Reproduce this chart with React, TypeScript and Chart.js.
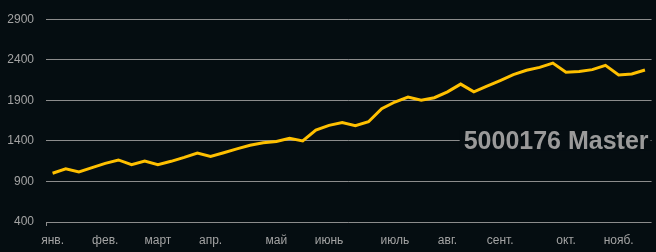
import React, { useEffect, useRef } from "react";
import { Chart, registerables } from "chart.js";

Chart.register(...registerables);

const monthLabels: [number, string][] = [
  [0, "янв."], [4, "фев."], [8, "март"], [12, "апр."], [17, "май"], [21, "июнь"],
  [26, "июль"], [30, "авг."], [34, "сент."], [39, "окт."], [43, "нояб."],
];

const values: number[] = [
  1001, 1055, 1018, 1070, 1123, 1165, 1107, 1152, 1107, 1148,
  1197, 1250, 1209, 1254, 1302, 1346, 1376, 1392, 1433, 1400,
  1534, 1591, 1627, 1587, 1636, 1797, 1879, 1940, 1900, 1932,
  2005, 2100, 2005, 2074, 2144, 2217, 2270, 2306, 2359, 2245,
  2254, 2278, 2331, 2212, 2225, 2273,
];

const categories: string[] = values.map((_, i) => {
  const m = monthLabels.find(([idx]) => idx === i);
  return m ? m[1] : "";
});

const yTicks: number[] = [400, 900, 1400, 1900, 2400, 2900];
const titleText = "5000176 Master";

const BG = "#050d11";
const GRID = "#8c8c8c";
const TICK = "#a3a3a3";
const LINE = "#ffc000";
const FONT = "'Liberation Sans', Arial, sans-serif";

export default function App() {
  const ref = useRef<HTMLCanvasElement | null>(null);

  useEffect(() => {
    document.body.style.margin = "0";
    document.body.style.background = BG;
    const canvas = ref.current;
    if (!canvas) return;

    const overlay = {
      id: "overlay",
      beforeDraw(chart: any) {
        const { ctx, width, height } = chart;
        ctx.save();
        ctx.fillStyle = BG;
        ctx.fillRect(0, 0, width, height);
        ctx.restore();
      },
      afterDraw(chart: any) {
        const { ctx, chartArea } = chart;
        ctx.save();
        ctx.strokeStyle = GRID;
        ctx.lineWidth = 1;
        ctx.beginPath();
        ctx.moveTo(Math.round(chartArea.left) + 0.5, chartArea.bottom);
        ctx.lineTo(Math.round(chartArea.left) + 0.5, chartArea.bottom + 4);
        ctx.stroke();
        const y = chart.scales.y.getPixelForValue(1400);
        ctx.font = `bold 25px ${FONT}`;
        const w = ctx.measureText(titleText).width;
        const right = chartArea.right - 3;
        const left = right - w;
        ctx.fillStyle = BG;
        ctx.fillRect(left - 4, y - 10, w + 6, 20);
        ctx.fillStyle = "#9a9a9a";
        ctx.textBaseline = "alphabetic";
        ctx.fillText(titleText, left, y + 8);
        ctx.restore();
      },
    };

    const chart = new Chart(canvas, {
      type: "line",
      data: {
        labels: categories,
        datasets: [
          {
            data: values,
            borderColor: LINE,
            borderWidth: 3,
            pointRadius: 0,
            tension: 0,
            fill: false,
          },
        ],
      },
      options: {
        animation: false,
        responsive: true,
        maintainAspectRatio: false,
        layout: { padding: { top: 18, right: 3, left: 0, bottom: 0 } },
        plugins: { legend: { display: false }, tooltip: { enabled: false } },
        scales: {
          x: {
            type: "category",
            offset: true,
            grid: { display: false, drawTicks: false },
            border: { display: false },
            ticks: {
              autoSkip: false,
              maxRotation: 0,
              minRotation: 0,
              color: TICK,
              font: { size: 12, family: FONT },
              padding: 11,
            },
            afterFit: (s: any) => {
              s.height = 30;
            },
          },
          y: {
            min: 400,
            max: 2900,
            afterBuildTicks: (s: any) => {
              s.ticks = yTicks.map((v) => ({ value: v }));
            },
            grid: { color: GRID, lineWidth: 1, drawTicks: false },
            border: { display: false },
            ticks: {
              color: TICK,
              font: { size: 12, family: FONT },
              padding: 12,
              callback: (v: any) => String(v),
            },
            afterFit: (s: any) => {
              s.width = 46;
            },
          },
        },
      },
      plugins: [overlay],
    });
    return () => chart.destroy();
  }, []);

  return (
    <div style={{ width: 656, height: 252, position: "relative", background: BG }}>
      <canvas ref={ref} />
    </div>
  );
}
